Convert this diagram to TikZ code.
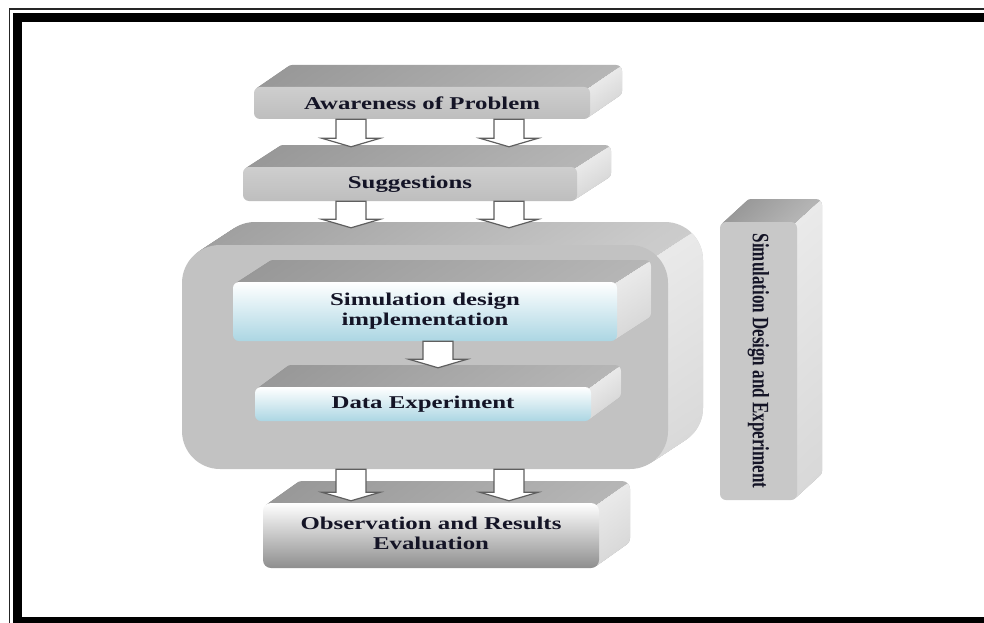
\documentclass[tikz,border=0pt]{standalone}
\usepackage{fontspec}
\setmainfont{Liberation Serif}
\usepackage{graphicx}
\usetikzlibrary{calc}
\definecolor{txt}{RGB}{20,20,38}
\definecolor{arrowline}{RGB}{95,95,95}
\definecolor{tdark}{RGB}{152,152,152}
\definecolor{tlight}{RGB}{182,182,182}
\definecolor{slight}{RGB}{234,234,234}
\definecolor{smid}{RGB}{216,216,216}
\definecolor{btdark}{RGB}{158,158,158}
\definecolor{btlight}{RGB}{205,205,205}
\definecolor{gfa}{RGB}{206,206,206}
\definecolor{gfb}{RGB}{190,190,190}
\definecolor{bigfront}{RGB}{194,194,194}
\definecolor{lblue}{RGB}{172,214,227}
\definecolor{obot}{RGB}{142,142,142}
\definecolor{vfront}{RGB}{200,200,200}
\newcommand\wtext[1]{\scalebox{1.38}[1]{#1}}
% #1 cx, #2 cy, #3 w, #4 h, #5 dx, #6 dy, #7 radius, #8 top style, #9 side style
\newcommand\extrude[9]{%
  \pgfmathsetmacro\exa{#1-(#3)/2}\pgfmathsetmacro\exb{#1+(#3)/2}%
  \pgfmathsetmacro\eya{#2-(#4)/2}\pgfmathsetmacro\eyb{#2+(#4)/2}%
  \pgfmathsetmacro\epx{\exb-0.3*(#7)}\pgfmathsetmacro\epy{\eya+0.3*(#7)}%
  \foreach \i in {24,23,...,1}{%
    \path[#8, rounded corners=#7pt, shift={({\i/24*(#5)},{\i/24*(#6)})}] (\exa,\eya) rectangle (\exb,\eyb);
  }%
  \begin{scope}
    \clip (\epx,\epy) -- ++({3*(#5)},{3*(#6)}) -- ++(400,0) -- ++(0,900) -- (\epx,900) -- cycle;
    \foreach \i in {24,23,...,1}{%
      \path[#9, rounded corners=#7pt, shift={({\i/24*(#5)},{\i/24*(#6)})}] (\exa,\eya) rectangle (\exb,\eyb);
    }%
  \end{scope}%
}
\begin{document}
\begin{tikzpicture}[x=1pt,y=-1pt,
  topface/.style={left color=tdark, right color=tlight},
  sideface/.style={top color=slight, bottom color=smid},
  bigtopface/.style={left color=btdark, right color=btlight},
  box/.style={inner sep=0pt, text=txt, font=\fontsize{18}{20}\selectfont\bfseries, align=center, rounded corners=6pt},
  grayfront/.style={box, top color=gfa, bottom color=gfb},
  bluefront/.style={box, top color=white, bottom color=lblue},
  obsfront/.style={box, top color=white, bottom color=obot, rounded corners=8pt},
  blockarr/.style={draw=arrowline, fill=white, line width=1.2pt, line join=miter,
    to path={let \p1=(\tikztostart), \p2=(\tikztotarget) in
      (\x1-15pt,\y1) -- (\x1-15pt,\y2+8.5pt) -- (\x1-29pt,\y2+8.5pt) -- (\x1,\y2)
      -- (\x1+29pt,\y2+8.5pt) -- (\x1+15pt,\y2+8.5pt) -- (\x1+15pt,\y1) -- cycle}}
]
\useasboundingbox (0,0) rectangle (984,623);
\fill[white] (0,0) rectangle (984,623);
% frame
\draw[line width=1.6pt, black!85] (9.3,623) -- (9.3,9.3) -- (984,9.3);
\draw[line width=8.5pt] (17.5,623) -- (17.5,17.3) -- (984,17.3);
\draw[line width=8pt] (13.3,621) -- (984,621);
% columns for the block arrows
\coordinate (colL) at (351,0);
\coordinate (colR) at (509,0);
\coordinate (colM) at (438,0);
% Awareness of Problem
\extrude{422}{103}{336}{32}{32}{-22}{6}{topface}{sideface}
\node[grayfront, minimum width=336pt, minimum height=32pt] (aw) at (422,103) {\wtext{Awareness of Problem}};
% Suggestions
\extrude{410}{184}{334}{34}{34}{-22}{6}{topface}{sideface}
\node[grayfront, minimum width=334pt, minimum height=34pt] (sg) at (410,184) {\wtext{Suggestions}};
\coordinate (sgtip) at ([yshift=20pt]sg.north);
\draw[blockarr] (aw.south -| colL) to (sgtip -| colL);
\draw[blockarr] (aw.south -| colR) to (sgtip -| colR);
% big container
\extrude{425}{357}{486}{224}{35}{-23}{38}{bigtopface}{sideface}
\node[box, fill=bigfront, rounded corners=38pt, minimum width=486pt, minimum height=224pt] (big) at (425,357) {};
\coordinate (bigtip) at ([yshift=17pt]big.north);
\draw[blockarr] (sg.south -| colL) to (bigtip -| colL);
\draw[blockarr] (sg.south -| colR) to (bigtip -| colR);
% Simulation design implementation
\extrude{425}{311.5}{384}{59}{34}{-22}{6}{topface}{sideface}
\node[bluefront, minimum width=384pt, minimum height=59pt] (sim) at (425,311.5) {\wtext{\begin{tabular}{@{}c@{}}Simulation design\\implementation\end{tabular}}};
% Data Experiment
\extrude{423}{404}{336}{34}{30}{-22}{6}{topface}{sideface}
\node[bluefront, minimum width=336pt, minimum height=34pt] (data) at (423,404) {\wtext{Data Experiment}};
\coordinate (datatip) at ([yshift=19pt]data.north);
\draw[blockarr] (sim.south -| colM) to (datatip -| colM);
% Observation and Results Evaluation
\extrude{431}{535.5}{336}{65}{31}{-22}{8}{topface}{sideface}
\node[obsfront, minimum width=336pt, minimum height=65pt] (obs) at (431,535.5) {\wtext{\begin{tabular}{@{}c@{}}Observation and Results\\Evaluation\end{tabular}}};
\coordinate (obstip) at ([yshift=2pt]obs.north);
\draw[blockarr] (big.south -| colL) to (obstip -| colL);
\draw[blockarr] (big.south -| colR) to (obstip -| colR);
% vertical box
\extrude{758.5}{361}{77}{278}{25}{-23}{6}{topface}{sideface}
\node[box, fill=vfront, rotate=-90, minimum width=278pt, minimum height=77pt, font=\fontsize{17}{20}\selectfont\bfseries] (vt) at (758.5,361) {\scalebox{1}[1.38]{Simulation Design and Experiment}};
\end{tikzpicture}
\end{document}
